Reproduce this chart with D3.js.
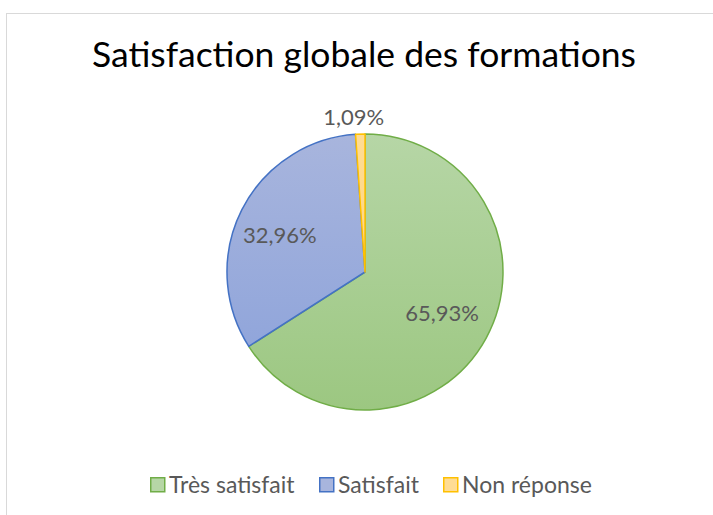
<!DOCTYPE html>
<html>
<head>
<meta charset="utf-8" />
<title>Satisfaction globale des formations</title>
<style>
body { margin: 0; background: #fff; }
</style>
</head>
<body>
<svg id="svg" width="713" height="515"></svg>
<script src="https://d3js.org/d3.v7.min.js"></script>
<script>
var titleText = "Satisfaction globale des formations";
var categories = ["Très satisfait", "Satisfait", "Non réponse"];
var values = [65.93, 32.96, 1.09];
var labels = ["65,93%", "32,96%", "1,09%"];

var strokeColors = ["#70ad47", "#4472c4", "#ffc000"];
var topColors = ["#b6d6a6", "#a8b5dd", "#ffdc94"];
var bottomColors = ["#9cc781", "#8aa1da", "#ffd070"];

var width = 713, height = 515;
var cx = 365, cy = 272, r = 138;
var font = "Lato, 'Open Sans', sans-serif";

var svg = d3.select("#svg");

// chart frame (runs off to the right and bottom)
svg.append("rect")
  .attr("x", 6.5).attr("y", 13.5)
  .attr("width", 720).attr("height", 520)
  .attr("fill", "#fff")
  .attr("stroke", "#d9d9d9");

svg.append("text")
  .attr("x", 364).attr("y", 67)
  .attr("text-anchor", "middle")
  .attr("font-family", font)
  .attr("font-size", 35.5)
  .attr("fill", "#000")
  .text(titleText);

var defs = svg.append("defs");
categories.forEach(function(c, i) {
  var g = defs.append("linearGradient")
    .attr("id", "grad" + i)
    .attr("gradientUnits", "userSpaceOnUse")
    .attr("x1", 0).attr("y1", -r).attr("x2", 0).attr("y2", r);
  g.append("stop").attr("offset", "0%").attr("stop-color", topColors[i]);
  g.append("stop").attr("offset", "100%").attr("stop-color", bottomColors[i]);
});

var pie = d3.pie().sort(null).value(function(d) { return d; });
var arc = d3.arc().innerRadius(0).outerRadius(r);
var arcs = pie(values);

var g = svg.append("g").attr("transform", "translate(" + cx + "," + cy + ")");

g.selectAll("path")
  .data(arcs)
  .enter().append("path")
  .attr("d", arc)
  .attr("fill", function(d, i) { return "url(#grad" + i + ")"; })
  .attr("stroke", function(d, i) { return strokeColors[i]; })
  .attr("stroke-width", 1.5)
  .attr("stroke-linejoin", "round");

// data labels (radius factor per slice, like Excel's best fit)
var labelRadius = [0.62, 0.65, 1.12];
var labelShift = [2, -5, -6];
g.selectAll("text.lbl")
  .data(arcs)
  .enter().append("text")
  .attr("class", "lbl")
  .attr("transform", function(d, i) {
    var a = d3.arc().innerRadius(r * labelRadius[i]).outerRadius(r * labelRadius[i]);
    var p = a.centroid(d);
    return "translate(" + (p[0] + labelShift[i]) + "," + (p[1] + (i === 1 ? 4 : 0)) + ")";
  })
  .attr("text-anchor", "middle")
  .attr("dy", "0.35em")
  .attr("font-family", font)
  .attr("font-size", 22)
  .attr("fill", "#595959")
  .text(function(d, i) { return labels[i]; });

// legend
var legendX = [150, 319, 443];
var lg = svg.append("g");
categories.forEach(function(c, i) {
  var item = lg.append("g").attr("transform", "translate(" + legendX[i] + ",477)");
  item.append("rect")
    .attr("x", 0.75).attr("y", 0.75)
    .attr("width", 14).attr("height", 14)
    .attr("fill", topColors[i])
    .attr("stroke", strokeColors[i])
    .attr("stroke-width", 1.5);
  item.append("text")
    .attr("x", 19).attr("y", 16)
    .attr("font-family", font)
    .attr("font-size", 23)
    .attr("fill", "#595959")
    .text(c);
});
</script>
</body>
</html>
